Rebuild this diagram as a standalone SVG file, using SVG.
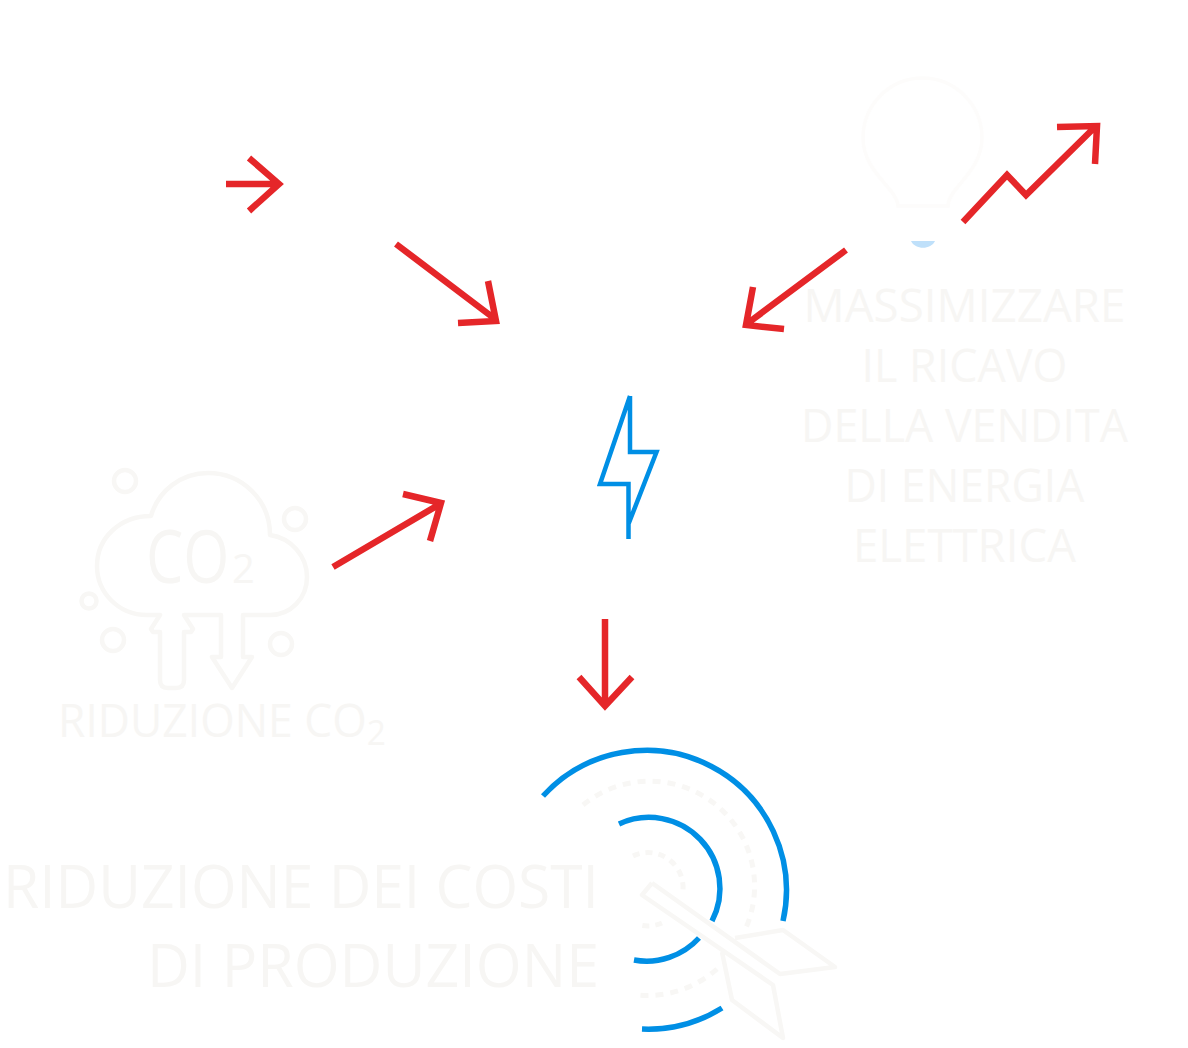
<svg xmlns="http://www.w3.org/2000/svg" width="1188" height="1048" viewBox="0 0 1188 1048">
<defs><style>
.r{fill:none;stroke:#e52629;stroke-width:6.500;stroke-linejoin:miter}
.b{fill:none;stroke:#008fe5;stroke-width:5.500}
.g{fill:none;stroke:#f8f7f5;stroke-width:4.500;stroke-linejoin:round}
.d{fill:none;stroke:#f8f7f5;stroke-width:5;stroke-dasharray:8 7}
text{font-family:"Open Sans","Noto Sans",sans-serif;fill:#f7f6f4}
.c{font-size:45px;text-anchor:middle}
.l{font-size:60px}
</style></defs>
<rect width="1188" height="1048" fill="#ffffff"/>
<g id="connectors">
<path class="r" d="M226 184H278M249 158L279 184L249 211"/>
<path class="r" d="M396 244L495 319M488 281L496 321L458 323"/>
<path class="r" d="M846 250L748 323M753 287L746 325L784 329"/>
<path class="r" d="M333 567L440 504M403 494L441 503L430 541"/>
<path class="r" d="M605 619V704M579 677L605 706L632 677"/>
</g>
<g id="node-ricavo">
<path fill="none" stroke="#fdfcfb" stroke-width="3.500" d="M898 206C897 188 863 172 863 138A59.500 60 0 0 1 982 138C982 172 948 188 948 206Z"/>
<path fill="#bfe0fa" d="M911 241H935C931 250 915 250 911 241Z"/>
<path class="r" d="M963 222L1007 175L1026 195L1095 127M1057 127L1097 126L1095 164"/>
<text class="c" x="964.500" y="322" textLength="322" lengthAdjust="spacingAndGlyphs">MASSIMIZZARE</text>
<text class="c" x="964.500" y="382" textLength="206" lengthAdjust="spacingAndGlyphs">IL RICAVO</text>
<text class="c" x="964.500" y="442" textLength="327" lengthAdjust="spacingAndGlyphs">DELLA VENDITA</text>
<text class="c" x="964.500" y="502" textLength="240" lengthAdjust="spacingAndGlyphs">DI ENERGIA</text>
<text class="c" x="964.500" y="562" textLength="223" lengthAdjust="spacingAndGlyphs">ELETTRICA</text>
</g>
<g id="node-energia">
<path class="b" style="stroke-width:4.500" d="M630 396V452H656.500L628.500 524V484H600L630 396M628.500 515V539"/>
</g>
<g id="node-co2">
<circle class="g" cx="125" cy="481" r="11"/>
<circle class="g" cx="295" cy="519" r="11"/>
<circle class="g" cx="89" cy="601" r="7.500"/>
<circle class="g" cx="113" cy="640" r="11"/>
<circle class="g" cx="281" cy="644" r="11"/>
<path class="g" d="M160 615H147C118 615 97 592 97 566C97 538 120 516 151 516C158 491 181 473 208 473C242 473 270 500 270 535C291 538 307 556 307 577C307 598 291 615 270 615H243V657H252L232 688L212 657H221V615H184L193 629L191 632H184V680Q184 688 176 688H168Q160 688 160 680V632H153L151 629L160 615Z"/>
<text transform="translate(146 583) scale(0.8 1)" style="font-size:74px">CO</text>
<text x="232" y="583" style="font-size:40px">2</text>
<text x="58" y="737" textLength="328" lengthAdjust="spacingAndGlyphs" style="font-size:45px">RIDUZIONE CO<tspan dy="8" style="font-size:34px">2</tspan></text>
</g>
<g id="node-costi">
<path class="b" d="M543 796A140 140 0 0 1 783 921M722 1008A140 140 0 0 1 642 1029"/>
<path class="b" d="M619 824A71 71 0 0 1 712 921M699 938A71 71 0 0 1 634 960"/>
<path class="d" d="M583 805A105 105 0 0 1 745 930M717 969A105 105 0 0 1 637 995"/>
<path class="d" d="M633 856A35 35 0 0 1 683 890M662 923A35 35 0 0 1 640 925" style="stroke-dasharray:7 6"/>
<path class="g" d="M652 883L780 974L835 967L783 930L735 938M652 883L642 895L773 985L783 1038L732 1000L722 952"/>
<text class="l" x="3" y="908" textLength="596" lengthAdjust="spacingAndGlyphs">RIDUZIONE DEI COSTI</text>
<text class="l" x="147" y="987" textLength="452" lengthAdjust="spacingAndGlyphs">DI PRODUZIONE</text>
</g>
</svg>
